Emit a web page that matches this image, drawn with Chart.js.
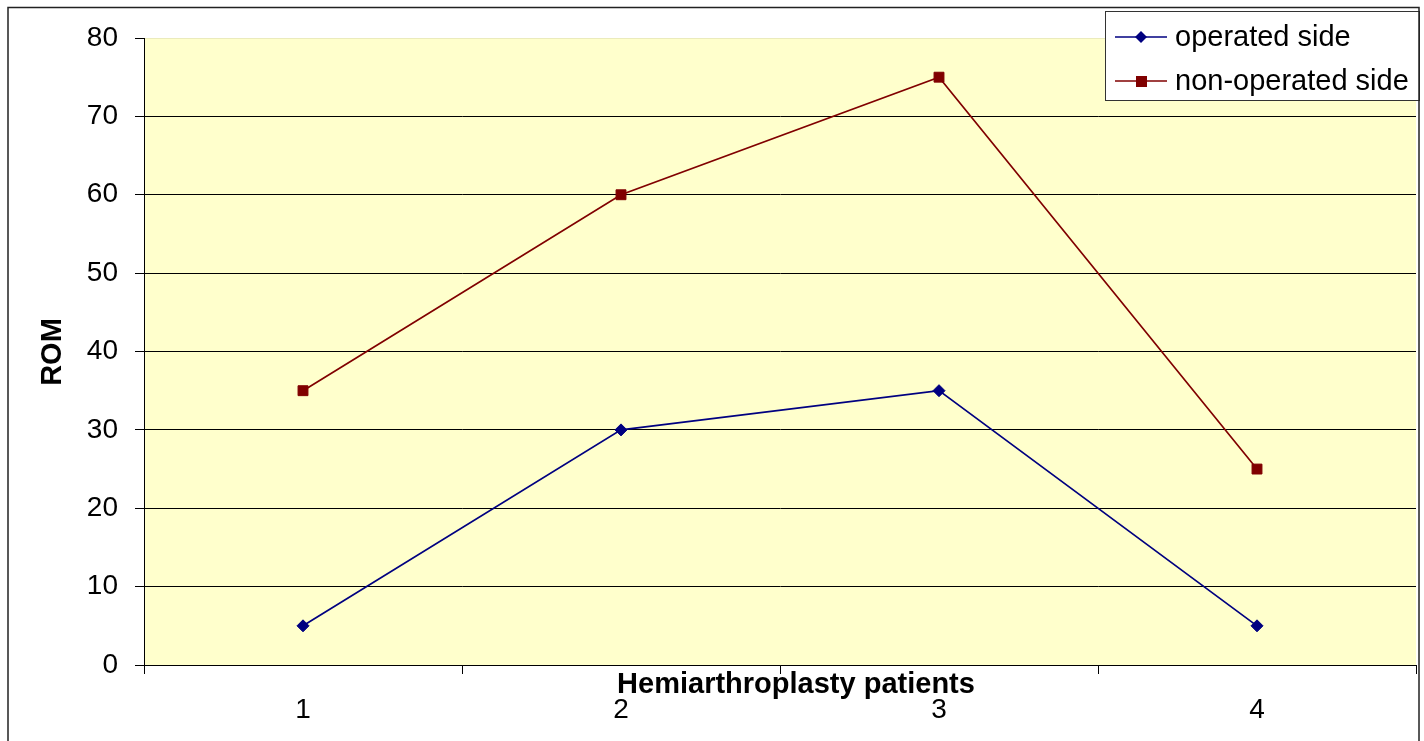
<!DOCTYPE html>
<html>
<head>
<meta charset="utf-8">
<script src="https://cdn.jsdelivr.net/npm/chart.js@4.4.1/dist/chart.umd.min.js"></script>
<style>
  body { margin: 0; background: #fff; }
  #wrap { width: 1424px; height: 741px; }
</style>
</head>
<body>
<div id="wrap"><canvas id="graficoRom" width="1424" height="741"></canvas></div>
<script>
// Hemiarthroplasty patients - ROM
const pacientes = ['1', '2', '3', '4'];
const ladoOperado = [5, 30, 35, 5];
const ladoNaoOperado = [35, 60, 75, 25];
const yMin = 0, yMax = 80, yStep = 10;

const fonte = 'Liberation Sans, Arial, sans-serif';

// fundo amarelo, titulos dos eixos, legenda e moldura externa
const extras = {
    id: 'extras',
    beforeDraw(chart) {
        const { ctx, chartArea: a } = chart;
        ctx.save();
        ctx.fillStyle = '#FFFFCC';
        ctx.fillRect(a.left, a.top, a.right - a.left, a.bottom - a.top);
        ctx.restore();
    },
    afterDraw(chart) {
        const ctx = chart.ctx;
        ctx.save();
        // titulos
        ctx.fillStyle = '#000';
        ctx.font = 'bold 29px ' + fonte;
        ctx.textAlign = 'center';
        ctx.textBaseline = 'alphabetic';
        ctx.fillText('Hemiarthroplasty patients', 796, 693);
        ctx.save();
        ctx.translate(61, 352);
        ctx.rotate(-Math.PI / 2);
        ctx.fillText('ROM', 0, 0);
        ctx.restore();

        // legenda
        ctx.fillStyle = '#fff';
        ctx.fillRect(1105, 11, 314, 89);
        ctx.strokeStyle = '#333';
        ctx.lineWidth = 1;
        ctx.strokeRect(1105.5, 11.5, 314, 89);
        ctx.font = '29px ' + fonte;
        ctx.textAlign = 'left';
        ctx.textBaseline = 'middle';
        chart.data.datasets.forEach((ds, i) => {
            const y = 37 + i * 44;
            ctx.strokeStyle = ds.borderColor;
            ctx.lineWidth = 1.7;
            ctx.beginPath();
            ctx.moveTo(1115, y);
            ctx.lineTo(1167, y);
            ctx.stroke();
            ctx.fillStyle = ds.pointBackgroundColor;
            ctx.beginPath();
            if (ds.pointStyle === 'rectRot') {
                ctx.moveTo(1141, y - 6);
                ctx.lineTo(1147, y);
                ctx.lineTo(1141, y + 6);
                ctx.lineTo(1135, y);
                ctx.closePath();
            } else {
                ctx.rect(1136, y - 5, 11, 11);
            }
            ctx.fill();
            ctx.fillStyle = '#000';
            ctx.fillText(ds.label, 1175, y + 1);
        });

        // moldura
        ctx.strokeStyle = '#222';
        ctx.lineWidth = 1.5;
        ctx.strokeRect(8, 7.5, 1411, 760);
        ctx.restore();
    }
};

const ctxRom = document.getElementById('graficoRom').getContext('2d');
new Chart(ctxRom, {
    type: 'line',
    data: {
        labels: pacientes,
        datasets: [{
            label: 'operated side',
            data: ladoOperado,
            borderColor: '#000080',
            backgroundColor: '#000080',
            pointBackgroundColor: '#000080',
            pointBorderColor: '#000080',
            pointStyle: 'rectRot',
            pointRadius: 6,
            pointBorderWidth: 1,
            borderWidth: 1.7,
            tension: 0
        }, {
            label: 'non-operated side',
            data: ladoNaoOperado,
            borderColor: '#800000',
            backgroundColor: '#800000',
            pointBackgroundColor: '#800000',
            pointBorderColor: '#800000',
            pointStyle: 'rect',
            pointRadius: 7,
            pointBorderWidth: 1,
            borderWidth: 1.7,
            tension: 0
        }]
    },
    options: {
        responsive: false,
        animation: false,
        layout: { padding: { top: 38, right: 7, bottom: 0, left: 0 } },
        plugins: {
            legend: { display: false },
            tooltip: { enabled: false }
        },
        scales: {
            x: {
                offset: true,
                grid: {
                    offset: true,
                    drawOnChartArea: false,
                    drawTicks: true,
                    tickLength: 9,
                    tickColor: '#000',
                    color: '#000'
                },
                border: { display: true, color: '#000', width: 1 },
                ticks: {
                    color: '#000',
                    font: { family: fonte, size: 28 },
                    padding: 19,
                    maxRotation: 0
                },
                afterFit(scale) { scale.height = 76; }
            },
            y: {
                min: yMin,
                max: yMax,
                ticks: {
                    stepSize: yStep,
                    color: '#000',
                    font: { family: fonte, size: 28 },
                    padding: 17
                },
                grid: {
                    color: (c) => c.tick && c.tick.value === yMax ? 'rgba(0,0,0,0.08)' : '#000',
                    tickColor: '#000',
                    tickLength: 9,
                    lineWidth: 1
                },
                border: { display: true, color: '#000', width: 1 },
                afterFit(scale) { scale.width = 144; }
            }
        }
    },
    plugins: [extras]
});
</script>
</body>
</html>
